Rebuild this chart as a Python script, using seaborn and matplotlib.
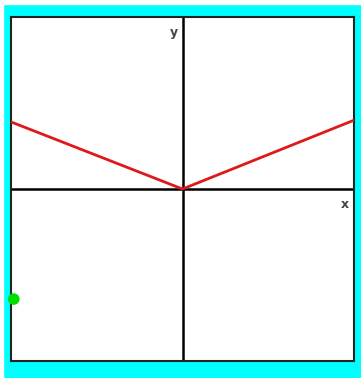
import pandas as pd
import numpy as np
import matplotlib
matplotlib.use("Agg")
import matplotlib.pyplot as plt
import seaborn as sns
from matplotlib.patches import Rectangle

# data
line_x = [-5, 0, 5]
line_y = [1.95, 0, 2.0]
point_x = [-4.92]
point_y = [-3.2]
x_limits = [-5, 5]
y_limits = [-5, 5]

sns.set_style("white")

fig = plt.figure(figsize=(3.61, 3.78), dpi=100)
fig.patch.set_facecolor("cyan")
# thin white margin on top / left of the reference
fig.patches.append(Rectangle((0, 0), 3/361, 1, transform=fig.transFigure, color="white", zorder=-1))
fig.patches.append(Rectangle((0, 1 - 4/378), 1, 4/378, transform=fig.transFigure, color="white", zorder=-1))

ax = fig.add_axes([11/361, 1 - 361/378, 343/361, 344/378])
ax.set_facecolor("white")

df_line = pd.DataFrame({"x": line_x, "y": line_y})
sns.lineplot(data=df_line, x="x", y="y", ax=ax, color="#e01818", linewidth=2, sort=False, zorder=3)

df_pt = pd.DataFrame({"x": point_x, "y": point_y})
sns.scatterplot(data=df_pt, x="x", y="y", ax=ax, color="#00dd00", s=70, edgecolor="none", zorder=4, clip_on=False)

ax.axhline(0, color="black", linewidth=1.8, zorder=2)
ax.axvline(0, color="black", linewidth=1.8, zorder=2)

ax.set_xlim(x_limits)
ax.set_ylim(y_limits)
ax.set_xticks([])
ax.set_yticks([])
ax.set_xlabel("")
ax.set_ylabel("")
for s in ax.spines.values():
    s.set_color("#222222")
    s.set_linewidth(1.5)

lab_font = dict(fontsize=9, color="#444444", fontweight="bold",
                family=["Liberation Sans Narrow", "DejaVu Sans"])
ax.text(-0.12, 4.55, "y", ha="right", va="center", **lab_font)
ax.text(4.85, -0.45, "x", ha="right", va="center", **lab_font)

fig.savefig("out.png", dpi=100, facecolor=fig.get_facecolor())
